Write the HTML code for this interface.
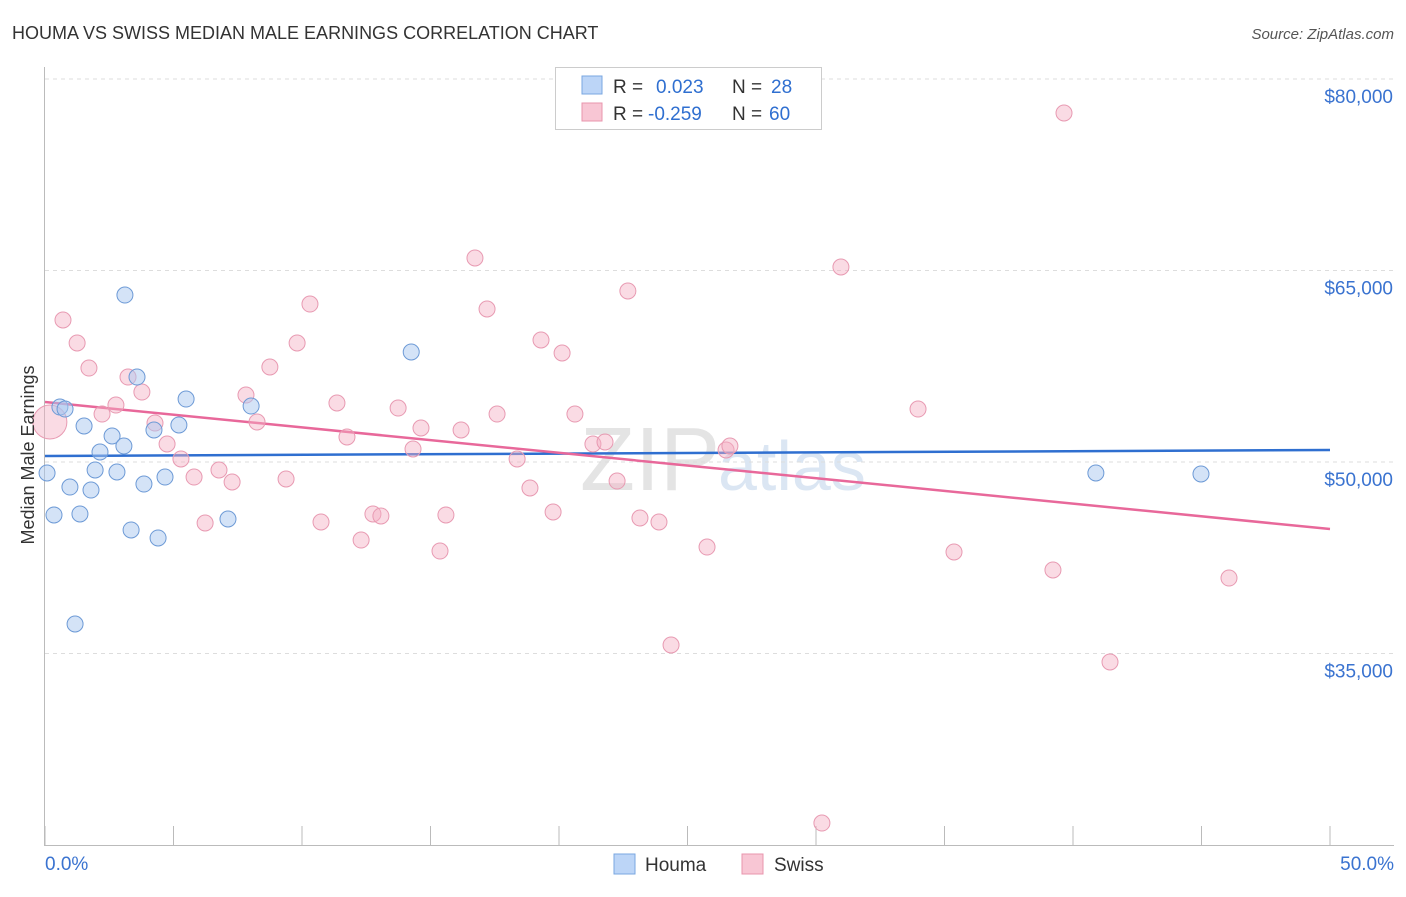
<!DOCTYPE html>
<html><head><meta charset="utf-8"><style>
body{margin:0;background:#fff;font-family:"Liberation Sans",sans-serif;}
svg text{font-family:"Liberation Sans",sans-serif;}
</style></head><body>
<svg id="c" width="1406" height="892" xmlns="http://www.w3.org/2000/svg">
<text x="12" y="39" font-size="18" fill="#333">HOUMA VS SWISS MEDIAN MALE EARNINGS CORRELATION CHART</text>
<text x="1394" y="39" font-size="15" fill="#555" font-style="italic" text-anchor="end">Source: ZipAtlas.com</text>
<text x="720" y="490" font-size="90" fill="#e4e4e4" text-anchor="end" font-family="Liberation Serif">ZIP</text>
<text x="718" y="490" font-size="70" fill="#dbe6f3">atlas</text>
<g id="grid"></g><g id="axes"></g><g id="trend"></g><g id="pts"></g>
<text transform="translate(34,455) rotate(-90)" font-size="18" fill="#333" text-anchor="middle">Median Male Earnings</text>
<g>
<rect x="555.5" y="67.5" width="266" height="62" fill="#fff" stroke="#ccc"/>
<rect x="582" y="76" width="20" height="18" fill="#bcd5f7" stroke="#7aa7e0"/>
<rect x="582" y="103" width="20" height="18" fill="#f8c6d4" stroke="#e895ad"/>
<text x="613" y="93" font-size="19" fill="#333">R = <tspan fill="#2f6fd0" x="656">0.023</tspan><tspan x="732" fill="#333">N = </tspan><tspan fill="#2f6fd0" x="771">28</tspan></text>
<text x="613" y="120" font-size="19" fill="#333">R = <tspan fill="#2f6fd0" x="648">-0.259</tspan><tspan x="732" fill="#333">N = </tspan><tspan fill="#2f6fd0" x="769">60</tspan></text>
</g>
<g>
<rect x="614" y="854" width="21" height="20" fill="#bcd5f7" stroke="#7aa7e0"/>
<text x="645" y="871" font-size="19" fill="#333">Houma</text>
<rect x="742" y="854" width="21" height="20" fill="#f8c6d4" stroke="#e895ad"/>
<text x="774" y="871" font-size="19" fill="#333">Swiss</text>
</g>
</svg>
<script>
const yTicks=[80000,65000,50000,35000];
const yTickLabels=["$80,000","$65,000","$50,000","$35,000"];
const xTickLabels=["0.0%","50.0%"];
const houmaX=[0.08,0.35,0.58,0.78,0.97,1.17,1.36,1.52,1.79,1.95,2.14,2.61,2.80,3.07,3.11,3.35,3.58,3.85,4.24,4.40,4.67,5.21,5.49,7.12,8.02,14.25,40.89,44.98];
const houmaY=[49138,45850,54307,54150,48041,37310,45928,52820,47806,49373,50783,52036,49216,51253,63080,44675,56657,48276,52506,44048,48824,52898,54934,45535,54385,58616,49138,49060];
const swissX=[0.19,0.70,1.25,1.71,2.22,2.76,3.23,3.77,4.28,4.75,5.29,5.80,6.23,6.77,7.28,7.82,8.25,8.75,9.38,9.81,10.31,10.74,11.36,11.75,12.30,12.76,13.07,13.74,14.32,14.63,15.37,15.60,16.19,16.73,17.20,17.59,18.37,18.87,19.30,19.77,20.12,20.62,21.32,21.79,22.26,22.68,23.15,23.89,24.36,25.76,26.50,26.65,30.23,30.97,33.97,35.37,39.22,39.65,41.44,46.07];
const swissY=[53133,61122,59321,57362,53759,54464,56657,55482,53054,51410,50235,48824,45222,49373,48433,55247,53133,57441,48668,59321,62375,45300,54621,51958,43889,45928,45771,54229,51018,52663,43028,45850,52506,65979,61984,53759,50235,47963,59556,46084,58538,53759,51410,51567,48511,63394,45614,45300,35666,43341,50940,51253,21722,65274,54150,42950,41540,77337,34334,40913];
const houmaTrend=[50470,50940];
const swissTrend=[54700,44750];
const trendX=[0,50];
const NS="http://www.w3.org/2000/svg";
function sx(v){return 45+v/50*1285;}
function sy(v){return 79+(80000-v)/15000*191.5;}
function mk(tag,attrs,parent){const e=document.createElementNS(NS,tag);for(const k in attrs)e.setAttribute(k,attrs[k]);document.getElementById(parent).appendChild(e);return e;}
yTicks.forEach((t,i)=>{
  const l=mk('line',{x1:45,x2:1394,y1:sy(t),y2:sy(t),stroke:'#ddd','stroke-dasharray':'4,4'},'grid');
  
  
  const tx=mk('text',{x:1393,y:sy(t)+24,'font-size':19,fill:'#3a73d0','text-anchor':'end'},'axes');
  tx.textContent=yTickLabels[i];
  
  
});
const ya=mk('line',{x1:44.5,x2:44.5,y1:67,y2:845,stroke:'#bbb'},'axes');


const xa=mk('line',{x1:44,x2:1394,y1:845.5,y2:845.5,stroke:'#bbb'},'axes');


for(let i=0;i<=10;i++){
  const t=mk('line',{x1:sx(i*5),x2:sx(i*5),y1:826,y2:845,stroke:'#bbb'},'axes');
  
  
}
[[0,'start',45],[50,'end',1394]].forEach((d,i)=>{
  const tx=mk('text',{x:d[2],y:870,'font-size':19,fill:'#3a73d0','text-anchor':d[1]},'axes');
  tx.textContent=xTickLabels[i];
  
  
});
swissX.forEach((x,i)=>{
  const c=mk('circle',{cx:sx(x),cy:sy(swissY[i]),r:i===0?17:8,fill:'rgba(245,175,195,0.45)',stroke:'#e89ab2','stroke-width':1},'pts');
  
  
});
houmaX.forEach((x,i)=>{
  const c=mk('circle',{cx:sx(x),cy:sy(houmaY[i]),r:8,fill:'rgba(170,200,240,0.5)',stroke:'#6d9ad6','stroke-width':1},'pts');
  
  
});
const ht=mk('line',{x1:sx(trendX[0]),x2:sx(trendX[1]),y1:sy(houmaTrend[0]),y2:sy(houmaTrend[1]),stroke:'#2f6fd0','stroke-width':2.5},'trend');


const st=mk('line',{x1:sx(trendX[0]),x2:sx(trendX[1]),y1:sy(swissTrend[0]),y2:sy(swissTrend[1]),stroke:'#e8689a','stroke-width':2.5},'trend');


</script>
</body></html>
